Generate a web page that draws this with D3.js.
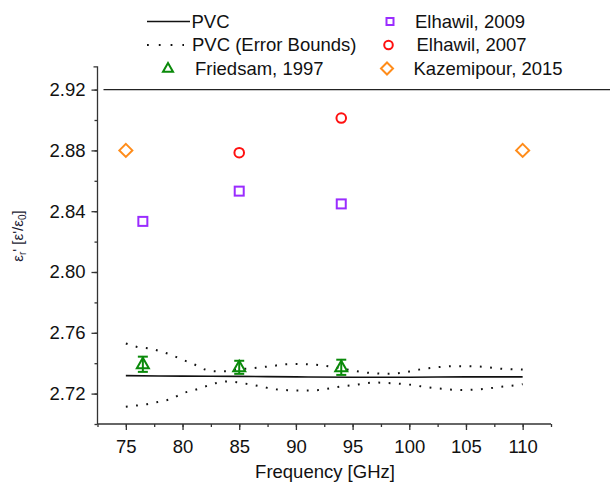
<!DOCTYPE html>
<html><head><meta charset="utf-8">
<script src="https://cdn.jsdelivr.net/npm/d3@7"></script>
<style>body{margin:0;background:#fff}svg{font-family:"Liberation Sans",Arial,sans-serif}</style>
</head><body><svg id="c" width="610" height="493"></svg>
<script>
const freq = [75,76,77,78,79,80,81,82,83,84,85,86,87,88,89,90,91,92,93,94,95,96,97,98,99,100,101,102,103,104,105,106,107,108,109,110];
const upperBound = [2.7530,2.7507,2.7498,2.7479,2.7455,2.7423,2.7393,2.7358,2.7347,2.7347,2.7362,2.7365,2.7374,2.7382,2.7393,2.7395,2.7393,2.7388,2.7378,2.7365,2.7352,2.7340,2.7334,2.7330,2.7334,2.7345,2.7360,2.7370,2.7377,2.7380,2.7380,2.7379,2.7372,2.7364,2.7360,2.7358];
const lowerBound = [2.7113,2.7122,2.7132,2.7148,2.7165,2.7202,2.7222,2.7247,2.7270,2.7280,2.7272,2.7260,2.7246,2.7230,2.7224,2.7220,2.7220,2.7223,2.7235,2.7247,2.7255,2.7266,2.7273,2.7270,2.7266,2.7259,2.7248,2.7238,2.7231,2.7225,2.7224,2.7227,2.7234,2.7244,2.7252,2.7262];
const pvcFreq = [75,80,85,90,95,100,105,110];
const pvcValue = [2.7318,2.7315,2.7313,2.7310,2.7308,2.7308,2.7310,2.7310];
const friedsamFreq = [76.5,85,94];
const friedsamValue = [2.7393,2.7373,2.7373];
const friedsamErr = [0.0050,0.0043,0.0050];
const elhawil2009Freq = [76.5,85,94];
const elhawil2009Value = [2.8333,2.8532,2.8448];
const elhawil2007Freq = [85,94];
const elhawil2007Value = [2.8785,2.9013];
const kazemipourFreq = [75,110];
const kazemipourValue = [2.880,2.880];
const xTicks = [75,80,85,90,95,100,105,110];
const yTicks = [2.72,2.76,2.80,2.84,2.88,2.92];
const refLineValue = 2.92;

const FS = 18.5;
const svg = d3.select("#c");
const x = d3.scaleLinear().domain([72.5,112.5]).range([97.5,551]);
const y = d3.scaleLinear().domain([2.70,2.935]).range([424,66.8]);
const axisColor = "#333";

// axes
const xMinor = d3.range(72.5,112.6,2.5);
const gx = svg.append("g").attr("transform",`translate(0,${y(2.70)})`);
gx.call(d3.axisBottom(x).tickValues(xMinor).tickSize(3).tickFormat(""));
gx.call(g=>g.selectAll(".domain").remove());
const gx2 = svg.append("g").attr("transform",`translate(0,${y(2.70)})`)
  .call(d3.axisBottom(x).tickValues(xTicks).tickSize(6).tickPadding(10).tickFormat(d3.format("d")));
gx2.select(".domain").attr("d",`M${x(72.5)},0H${x(112.5)}`);
gx2.selectAll("text").attr("font-size",FS).attr("fill","#111").attr("font-family","Liberation Sans, Arial");

const yMinor = d3.range(2.70,2.936,0.02);
const gy = svg.append("g").attr("transform",`translate(${x(72.5)},0)`);
gy.call(d3.axisLeft(y).tickValues(yMinor).tickSize(3).tickFormat(""));
gy.call(g=>g.selectAll(".domain").remove());
const gy2 = svg.append("g").attr("transform",`translate(${x(72.5)},0)`)
  .call(d3.axisLeft(y).tickValues(yTicks).tickSize(6).tickPadding(6).tickFormat(d3.format(".2f")));
gy2.select(".domain").attr("d",`M0,${y(2.70)}V${y(2.935)}H-4`);
gy2.selectAll("text").attr("font-size",FS).attr("fill","#111").attr("font-family","Liberation Sans, Arial");
svg.selectAll(".tick line, .domain").attr("stroke",axisColor).attr("stroke-width",1.3).attr("fill","none");

// reference line at 2.92
svg.append("line").attr("x1",x(72.5)+6).attr("x2",610).attr("y1",y(refLineValue)).attr("y2",y(refLineValue))
  .attr("stroke","#222").attr("stroke-width",1.3);

// PVC lines
const line = d3.line().x(d=>x(d[0])).y(d=>y(d[1])).curve(d3.curveMonotoneX);
svg.append("path").attr("d",line(pvcFreq.map((f,i)=>[f,pvcValue[i]]))).attr("fill","none").attr("stroke","#111").attr("stroke-width",1.6);
[upperBound,lowerBound].forEach(arr=>{
  svg.append("path").attr("d",line(freq.map((f,i)=>[f,arr[i]]))).attr("fill","none")
    .attr("stroke","#111").attr("stroke-width",2).attr("stroke-dasharray","1.8,8.5");
});

// markers
const green="#0a8a0a", purple="#9a2cff", red="#ff1010", orange="#ff8c1a";
function triangle(g,cx,cy,s,color){
  const h=s*0.87;
  g.append("path").attr("d",`M${cx},${cy-h*0.62}L${cx+s/2},${cy+h*0.38}L${cx-s/2},${cy+h*0.38}Z`)
   .attr("fill","none").attr("stroke",color).attr("stroke-width",2);
}
friedsamFreq.forEach((f,i)=>{
  const cx=x(f), v=friedsamValue[i], e=friedsamErr[i];
  const g=svg.append("g");
  g.append("line").attr("x1",cx).attr("x2",cx).attr("y1",y(v+e)).attr("y2",y(v-e)).attr("stroke",green).attr("stroke-width",2);
  [v+e,v-e].forEach(t=>g.append("line").attr("x1",cx-5).attr("x2",cx+5).attr("y1",y(t)).attr("y2",y(t)).attr("stroke",green).attr("stroke-width",2));
  triangle(g,cx,y(v),12,green);
});
elhawil2009Freq.forEach((f,i)=>{
  svg.append("rect").attr("x",x(f)-4.5).attr("y",y(elhawil2009Value[i])-4.5).attr("width",9).attr("height",9)
   .attr("fill","none").attr("stroke",purple).attr("stroke-width",2);
});
elhawil2007Freq.forEach((f,i)=>{
  svg.append("circle").attr("cx",x(f)).attr("cy",y(elhawil2007Value[i])).attr("r",4.8)
   .attr("fill","none").attr("stroke",red).attr("stroke-width",2);
});
function diamond(g,cx,cy,r,color){
  g.append("path").attr("d",`M${cx},${cy-r}L${cx+r},${cy}L${cx},${cy+r}L${cx-r},${cy}Z`)
   .attr("fill","none").attr("stroke",color).attr("stroke-width",2);
}
kazemipourFreq.forEach((f,i)=>diamond(svg,x(f),y(kazemipourValue[i]),6.5,orange));

// legend
const lg = svg.append("g").attr("font-size",FS).attr("fill","#111");
const rows=[21.5,45,68.5];
lg.append("line").attr("x1",147).attr("x2",190).attr("y1",rows[0]).attr("y2",rows[0]).attr("stroke","#111").attr("stroke-width",1.6);
lg.append("line").attr("x1",147).attr("x2",184).attr("y1",rows[1]).attr("y2",rows[1]).attr("stroke","#111").attr("stroke-width",2).attr("stroke-dasharray","1.8,10");
triangle(lg,168,rows[2],10,green);
lg.append("rect").attr("x",386.5).attr("y",rows[0]-3.5).attr("width",7).attr("height",7).attr("fill","none").attr("stroke",purple).attr("stroke-width",2);
lg.append("circle").attr("cx",388.5).attr("cy",rows[1]).attr("r",4.3).attr("fill","none").attr("stroke",red).attr("stroke-width",2);
diamond(lg,387,rows[2],6,orange);
[["PVC",191.5,rows[0]],["PVC (Error Bounds)",192,rows[1]],["Friedsam, 1997",195,rows[2]],
 ["Elhawil, 2009",415,rows[0]],["Elhawil, 2007",416.5,rows[1]],["Kazemipour, 2015",413.5,rows[2]]]
 .forEach(([t,tx,ty])=>lg.append("text").attr("x",tx).attr("y",ty).attr("dy","0.35em").text(t));

// axis titles
svg.append("text").attr("x",325).attr("y",478).attr("text-anchor","middle").attr("font-size",FS).attr("fill","#111").text("Frequency [GHz]");
const yt = svg.append("text").attr("transform","translate(23,236) rotate(-90)").attr("text-anchor","middle").attr("font-size",15).attr("fill","#1a1a33");
yt.append("tspan").text("ε");
yt.append("tspan").attr("font-size",10).attr("dy",3).text("r");
yt.append("tspan").attr("dy",-3).text("'  [ε'/ε");
yt.append("tspan").attr("font-size",10).attr("dy",3).text("0");
yt.append("tspan").attr("dy",-3).text("]");
</script></body></html>
